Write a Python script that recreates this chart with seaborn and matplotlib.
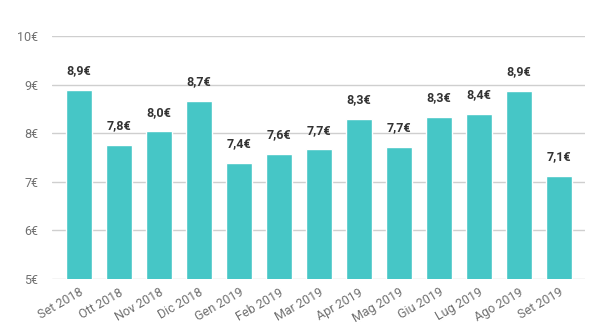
import matplotlib
matplotlib.use("Agg")
import matplotlib.pyplot as plt
import seaborn as sns
import pandas as pd

months = ["Set 2018", "Ott 2018", "Nov 2018", "Dic 2018", "Gen 2019", "Feb 2019", "Mar 2019",
          "Apr 2019", "Mag 2019", "Giu 2019", "Lug 2019", "Ago 2019", "Set 2019"]
values = [8.89, 7.76, 8.04, 8.66, 7.39, 7.57, 7.67, 8.29, 7.72, 8.33, 8.40, 8.87, 7.12]
y_ticks = [5, 6, 7, 8, 9, 10]

sns.set_theme(style="white")
plt.rcParams['font.family'] = ['Roboto', 'DejaVu Sans']

df = pd.DataFrame({"mese": months, "valore": values})

fig = plt.figure(figsize=(6.05, 3.36), dpi=100)
ax = fig.add_axes([0.086, 0.170, 0.881, 0.723])

sns.barplot(data=df, x="mese", y="valore", color="#46C6C6", saturation=1, width=0.65, ax=ax, zorder=3)

ax.set_ylim(5, 10)
ax.set_xlim(-0.675, 12.65)
ax.set_yticks(y_ticks)
ax.set_yticklabels([f"{t}€" for t in y_ticks], color="#707070", fontsize=9)
ax.yaxis.grid(True, color="#cfcfcf", linewidth=1, zorder=0)
ax.tick_params(axis="y", length=0, pad=10)
ax.tick_params(axis="x", length=0, pad=5)
plt.setp(ax.get_xticklabels(), rotation=30, ha="right", rotation_mode="anchor",
         color="#707070", fontsize=9)
ax.set_xlabel("")
ax.set_ylabel("")
for s in ax.spines.values():
    s.set_visible(False)

for i, v in enumerate(values):
    ax.annotate(f"{v:.1f}€".replace(".", ","), (i, v), xytext=(0, 9), textcoords="offset points",
                ha="center", va="bottom", fontsize=9, fontweight="bold", color="#333333")

fig.savefig("out.png", dpi=100)
